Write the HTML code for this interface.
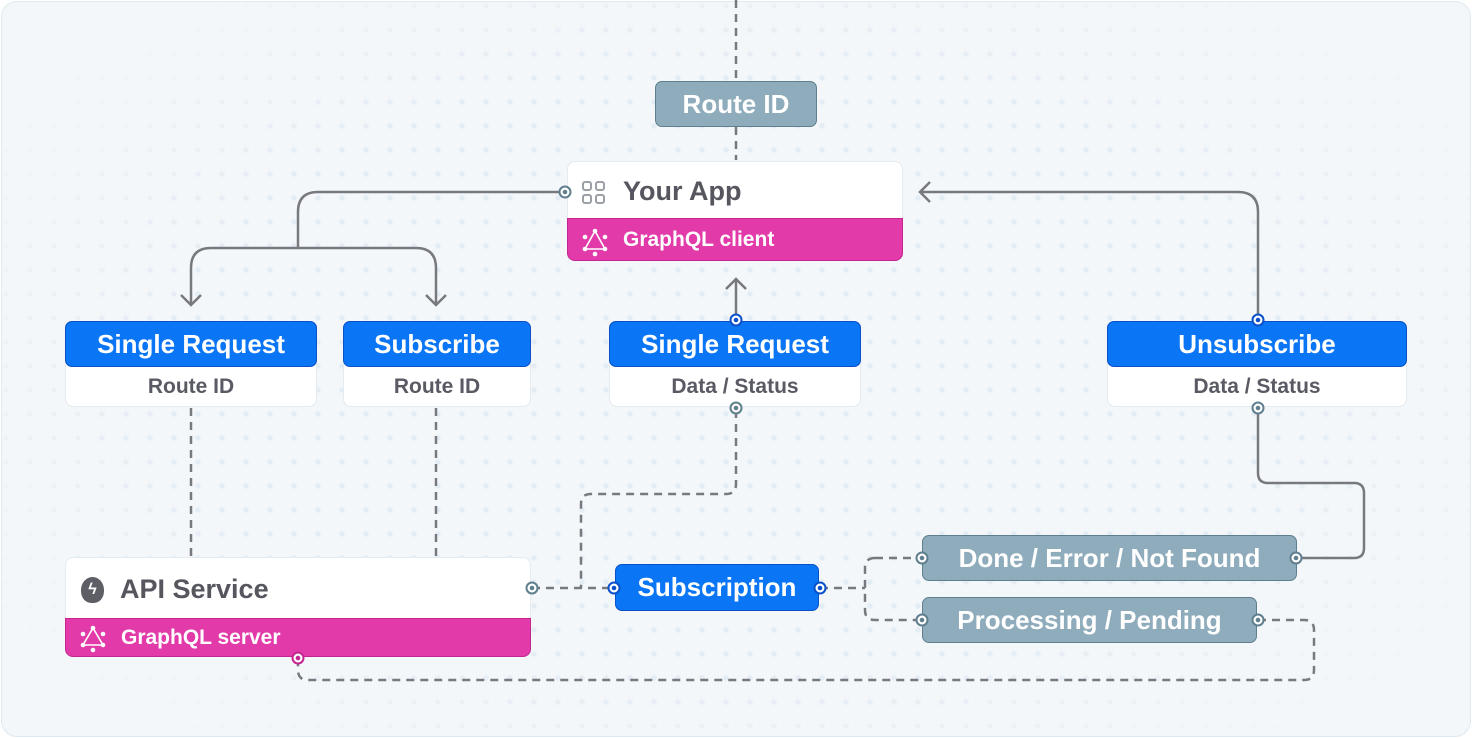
<!DOCTYPE html>
<html><head><meta charset="utf-8"><style>
*{box-sizing:border-box;margin:0;padding:0}
body{width:1472px;height:738px;background:#fff;font-family:"Liberation Sans",sans-serif;position:relative;overflow:hidden}
.frame{position:absolute;left:1px;top:1px;width:1470px;height:736px;border:1.5px solid #e0e9ef;border-radius:16px;background:#f3f7fa;overflow:hidden}
.dots{position:absolute;left:0;top:0;width:1472px;height:738px;background-image:radial-gradient(circle,#e5edf4 2.6px,transparent 3px);background-size:24px 24px;background-position:-8px -8px;-webkit-mask-image:radial-gradient(ellipse 60% 65% at 50% 50%,#000 65%,transparent 100%);mask-image:radial-gradient(ellipse 60% 65% at 50% 50%,#000 65%,transparent 100%)}
.abs{position:absolute}
.gray{background:#8eacbb;border:1.5px solid #5f7f8e;border-radius:7px;color:#fff;font-size:26px;font-weight:bold;display:flex;align-items:center;justify-content:center}
.blue{background:#0a76f6;border:1.5px solid #0a50c8;border-radius:7px;color:#fff;font-size:26px;font-weight:bold;display:flex;align-items:center;justify-content:center}
.card{background:#fff;border:1.5px solid #e3ebf0;border-radius:8px}
.sub{color:#595a63;font-size:21px;font-weight:bold;display:flex;align-items:center;justify-content:center}
.pink{background:#e23aa8;border:1.5px solid #c42590;border-radius:0 0 8px 8px;color:#fff;font-size:21px;font-weight:bold;display:flex;align-items:center}
.title{color:#55565e;font-size:27px;font-weight:bold;display:flex;align-items:center}
svg{position:absolute;left:0;top:0}
</style></head><body>
<div class="frame"><div class="dots"></div></div>

<svg width="1472" height="738">
<g fill="none" stroke="#78797f" stroke-width="2.5" stroke-dasharray="8 6">
<path d="M736 0 V81 M736 127 V160"/>
<path d="M191 408 V557 M436 408 V557"/>
<path d="M736 410 V484 Q736 494 726 494 H591 Q581 494 581 504 V588"/>
<path d="M532 588 H615"/>
<path d="M820 588 H865 M875 558 Q865 558 865 568 V610 Q865 620 875 620 H922 M875 558 H922"/>
<path d="M1258 620 H1304 Q1314 620 1314 630 V670 Q1314 680 1304 680 H308 Q298 680 298 670 V657"/>
</g>
<g fill="none" stroke="#78797f" stroke-width="2.5">
<path d="M565 192 H318 Q298 192 298 212 V248"/>
<path d="M298 248 H211 Q191 248 191 268 V305 M181 295 L191 305 L201 295"/>
<path d="M298 248 H416 Q436 248 436 268 V305 M426 295 L436 305 L446 295"/>
<path d="M736 320 V279 M726 289 L736 279 L746 289"/>
<path d="M1258 320 V212 Q1258 192 1238 192 H920 M930 182 L920 192 L930 202"/>
<path d="M1258 408 V473 Q1258 483 1268 483 H1354 Q1364 483 1364 493 V548 Q1364 558 1354 558 H1296"/>
</g>
</svg>

<div class="abs gray" style="left:655px;top:81px;width:162px;height:46px">Route ID</div>

<div class="abs card" style="left:567px;top:161px;width:336px;height:100px"></div>
<div class="abs title" style="left:567px;top:163px;width:336px;height:56px;padding-left:56px">Your App</div>
<svg width="1472" height="738"><g fill="none" stroke="#9aa0a6" stroke-width="2"><rect x="583" y="182" width="8" height="8" rx="2"/><rect x="596" y="182" width="8" height="8" rx="2"/><rect x="583" y="195" width="8" height="8" rx="2"/><rect x="596" y="195" width="8" height="8" rx="2"/></g></svg>
<div class="abs pink" style="left:567px;top:218px;width:336px;height:43px;padding-left:55px">GraphQL client</div>

<div class="abs card" style="left:65px;top:321px;width:252px;height:86px"></div>
<div class="abs blue" style="left:65px;top:321px;width:252px;height:46px">Single Request</div>
<div class="abs sub" style="left:65px;top:367px;width:252px;height:40px">Route ID</div>

<div class="abs card" style="left:343px;top:321px;width:188px;height:86px"></div>
<div class="abs blue" style="left:343px;top:321px;width:188px;height:46px">Subscribe</div>
<div class="abs sub" style="left:343px;top:367px;width:188px;height:40px">Route ID</div>

<div class="abs card" style="left:609px;top:321px;width:252px;height:86px"></div>
<div class="abs blue" style="left:609px;top:321px;width:252px;height:46px">Single Request</div>
<div class="abs sub" style="left:609px;top:367px;width:252px;height:40px">Data / Status</div>

<div class="abs card" style="left:1107px;top:321px;width:300px;height:86px"></div>
<div class="abs blue" style="left:1107px;top:321px;width:300px;height:46px">Unsubscribe</div>
<div class="abs sub" style="left:1107px;top:367px;width:300px;height:40px">Data / Status</div>

<div class="abs card" style="left:65px;top:557px;width:466px;height:100px"></div>
<div class="abs title" style="left:65px;top:560px;width:466px;height:58px;padding-left:55px">API Service</div>
<div class="abs" style="left:81px;top:577px;width:23px;height:26px;border-radius:50% 50% 45% 45%;background:#5d5e66;color:#fff;font-size:16px;font-weight:bold;text-align:center;line-height:26px">ϟ</div>
<div class="abs pink" style="left:65px;top:618px;width:466px;height:39px;padding-left:55px">GraphQL server</div>

<div class="abs blue" style="left:615px;top:564px;width:204px;height:47px">Subscription</div>
<div class="abs gray" style="left:922px;top:535px;width:375px;height:46px">Done / Error / Not Found</div>
<div class="abs gray" style="left:922px;top:597px;width:335px;height:46px">Processing / Pending</div>

<svg width="1472" height="738">
<g fill="none" stroke="#fff" stroke-width="1.6">
<path d="M595 231 L605 249 L585 249 Z"/><path d="M93 628 L103 645 L83 645 Z"/>
</g>
<g fill="#fff"><circle cx="595" cy="231" r="2.3"/><circle cx="585" cy="237" r="2.3"/><circle cx="605" cy="237" r="2.3"/><circle cx="585" cy="249" r="2.3"/><circle cx="605" cy="249" r="2.3"/><circle cx="595" cy="254" r="2.3"/>
<circle cx="93" cy="628" r="2.3"/><circle cx="83" cy="634" r="2.3"/><circle cx="103" cy="634" r="2.3"/><circle cx="83" cy="645" r="2.3"/><circle cx="103" cy="645" r="2.3"/><circle cx="93" cy="650" r="2.3"/></g>
<g stroke-width="2" fill="#fff">
<circle cx="565" cy="192" r="5.5" stroke="#5f7f8e"/>
<circle cx="736" cy="320" r="5.5" stroke="#0a50c8"/>
<circle cx="736" cy="408" r="5.5" stroke="#5f7f8e"/>
<circle cx="1258" cy="320" r="5.5" stroke="#0a50c8"/>
<circle cx="1258" cy="408" r="5.5" stroke="#5f7f8e"/>
<circle cx="532" cy="588" r="5.5" stroke="#5f7f8e"/>
<circle cx="614" cy="588" r="5.5" stroke="#0a50c8"/>
<circle cx="820" cy="588" r="5.5" stroke="#0a50c8"/>
<circle cx="922" cy="558" r="5.5" stroke="#5f7f8e"/>
<circle cx="922" cy="620" r="5.5" stroke="#5f7f8e"/>
<circle cx="1296" cy="558" r="5.5" stroke="#5f7f8e"/>
<circle cx="1258" cy="620" r="5.5" stroke="#5f7f8e"/>
<circle cx="298" cy="658" r="5.5" stroke="#c42590"/>
</g>
<g><circle cx="565" cy="192" r="2.3" fill="#5f7f8e"/><circle cx="736" cy="320" r="2.3" fill="#0a50c8"/><circle cx="736" cy="408" r="2.3" fill="#5f7f8e"/><circle cx="1258" cy="320" r="2.3" fill="#0a50c8"/><circle cx="1258" cy="408" r="2.3" fill="#5f7f8e"/><circle cx="532" cy="588" r="2.3" fill="#5f7f8e"/><circle cx="614" cy="588" r="2.3" fill="#0a50c8"/><circle cx="820" cy="588" r="2.3" fill="#0a50c8"/><circle cx="922" cy="558" r="2.3" fill="#5f7f8e"/><circle cx="922" cy="620" r="2.3" fill="#5f7f8e"/><circle cx="1296" cy="558" r="2.3" fill="#5f7f8e"/><circle cx="1258" cy="620" r="2.3" fill="#5f7f8e"/><circle cx="298" cy="658" r="2.3" fill="#c42590"/></g>
</svg>
</body></html>
